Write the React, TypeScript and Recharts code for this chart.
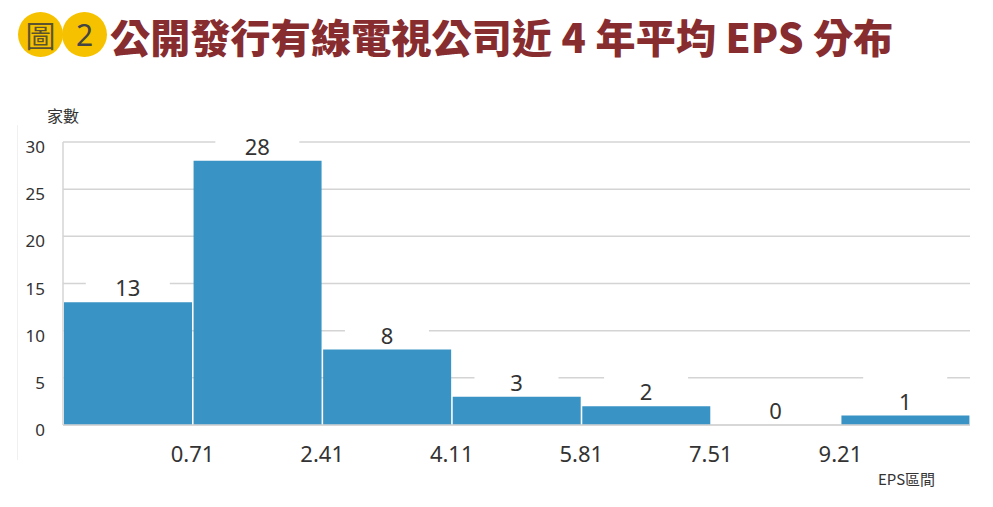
import React from "react";
import { ComposedChart, Bar, Scatter, XAxis, YAxis, CartesianGrid } from "recharts";

const bins = ["b1", "b2", "b3", "b4", "b5", "b6", "b7"];
const counts = [13, 28, 8, 3, 2, 0, 1];
const edgeLabels = ["0.71", "2.41", "4.11", "5.81", "7.51", "9.21", ""];
const yTicks = [0, 5, 10, 15, 20, 25, 30];

const data = bins.map((bin, i) => ({ bin, count: counts[i], edge: edgeLabels[i] }));

const FONT = '"Noto Sans", "Noto Sans CJK TC", sans-serif';
const CJK = '"Noto Sans CJK TC", "Noto Sans", sans-serif';

const W = 993;
const H = 507;
const M = { top: 142, right: 23, left: 13, bottom: 52 };
const Y_W = 50;
const band = (W - M.left - M.right - Y_W) / bins.length;

// tick sits on the right edge of each bin
const EdgeTick = (props: any) => {
  const { x, y, payload } = props;
  const label = edgeLabels[payload.index] ?? "";
  return (
    <text x={x + band / 2} y={y + 35} textAnchor="middle" fontSize={22} fill="#333" fontFamily={FONT}>
      {label}
    </text>
  );
};

const ValueLabel = (props: any) => {
  const { cx, cy, payload } = props;
  return (
    <g>
      <rect x={cx - 42} y={cy - 40} width={84} height={38} fill="#fff" />
      <text x={cx} y={cy - 6} textAnchor="middle" fontSize={22} fill="#333" fontFamily={FONT}>
        {payload.count}
      </text>
    </g>
  );
};

const EpsChart = () => {
  return (
    <div style={{ position: "relative", width: W, height: H, margin: -8, background: "#fff", overflow: "hidden" }}>
      <div
        style={{
          position: "absolute",
          left: 18,
          top: 12,
          width: 45,
          height: 45,
          borderRadius: "50%",
          background: "#f6c200",
          color: "#5b5330",
          fontFamily: CJK,
          fontSize: 30,
          lineHeight: "45px",
          textAlign: "center",
        }}
      >
        圖
      </div>
      <div
        style={{
          position: "absolute",
          left: 62,
          top: 12,
          width: 45,
          height: 45,
          borderRadius: "50%",
          background: "#f6c200",
          color: "#444",
          fontFamily: FONT,
          fontSize: 30,
          lineHeight: "45px",
          textAlign: "center",
        }}
      >
        2
      </div>
      <div
        style={{
          position: "absolute",
          left: 110,
          top: 7,
          fontFamily: CJK,
          fontWeight: 900,
          fontSize: 40,
          lineHeight: "58px",
          color: "#872c2f",
          whiteSpace: "nowrap",
          letterSpacing: 0.2,
        }}
      >
        公開發行有線電視公司近 4 年平均 EPS 分布
      </div>
      <div style={{ position: "absolute", left: 17, top: 125, width: 1, height: 335, background: "#f0f0f0" }} />
      <div style={{ position: "absolute", left: 47, top: 103, fontFamily: CJK, fontSize: 16, color: "#333" }}>家數</div>
      <div style={{ position: "absolute", left: 878, top: 468, fontFamily: CJK, fontSize: 15, color: "#333" }}>EPS區間</div>
      <div style={{ position: "absolute", left: 0, top: 0 }}>
        <ComposedChart width={W} height={H} data={data} margin={M} barCategoryGap={1}>
          <CartesianGrid vertical={false} stroke="#d4d4d4" strokeWidth={1.5} />
          <XAxis
            dataKey="bin"
            height={30}
            axisLine={{ stroke: "#d4d4d4", strokeWidth: 1.5 }}
            tickLine={false}
            tickSize={0}
            interval={0}
            tick={<EdgeTick />}
          />
          <YAxis
            width={Y_W}
            domain={[0, 30]}
            ticks={yTicks}
            axisLine={{ stroke: "#d4d4d4", strokeWidth: 1.5 }}
            tickLine={false}
            tickSize={0}
            tickMargin={18}
            tick={{ fill: "#333", fontSize: 17, fontFamily: FONT, dy: 5 }}
          />
          <Bar dataKey="count" fill="#3993c4" isAnimationActive={false} />
          <Scatter dataKey="count" isAnimationActive={false} shape={<ValueLabel />} />
        </ComposedChart>
      </div>
    </div>
  );
};

export default function App() {
  return <EpsChart />;
}
